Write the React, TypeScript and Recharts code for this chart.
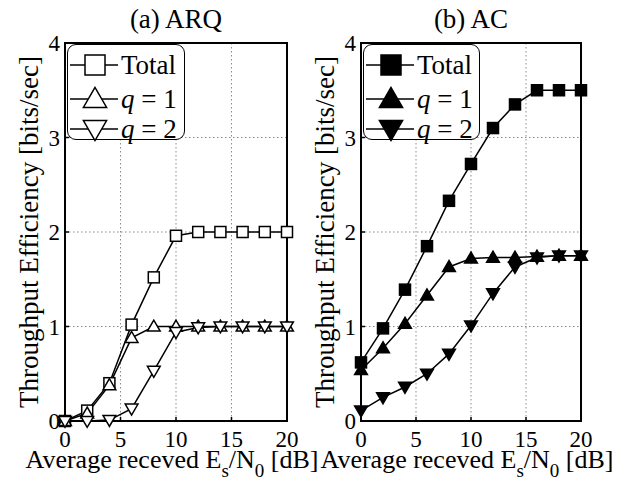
import { LineChart, Line, XAxis, YAxis, CartesianGrid, ReferenceArea, Legend, Label } from "recharts";

const FONT = "'Liberation Serif', 'Times New Roman', serif";

const snr = [0, 2, 4, 6, 8, 10, 12, 14, 16, 18, 20];
const xTicks = [0, 5, 10, 15, 20];
const yTicks = [0, 1, 2, 3, 4];

// (a) ARQ
const arqTotal = [0, 0.11, 0.4, 1.02, 1.52, 1.96, 2, 2, 2, 2, 2];
const arqQ1 = [0, 0.08, 0.38, 0.88, 1, 1, 1, 1, 1, 1, 1];
const arqQ2 = [0, 0, 0.01, 0.13, 0.53, 0.94, 0.99, 1, 1, 1, 1];

// (b) AC
const acTotal = [0.62, 0.98, 1.39, 1.85, 2.33, 2.72, 3.1, 3.35, 3.5, 3.5, 3.5];
const acQ1 = [0.54, 0.77, 1.03, 1.33, 1.63, 1.72, 1.73, 1.73, 1.74, 1.75, 1.75];
const acQ2 = [0.11, 0.25, 0.36, 0.5, 0.71, 1.01, 1.35, 1.63, 1.73, 1.75, 1.75];

type Kind = "square" | "up" | "down";

function Marker({ cx, cy, kind, filled, size }: { cx: number; cy: number; kind: Kind; filled: boolean; size: number }) {
  const fill = filled ? "#000" : "#fff";
  const h = size / 2;
  if (kind === "square") {
    return <rect x={cx - h} y={cy - h} width={size} height={size} fill={fill} stroke="#000" strokeWidth={1.5} />;
  }
  const w = size * 0.58;
  const pts =
    kind === "up"
      ? `${cx},${cy - size * 0.58} ${cx - w},${cy + size * 0.42} ${cx + w},${cy + size * 0.42}`
      : `${cx},${cy + size * 0.58} ${cx - w},${cy - size * 0.42} ${cx + w},${cy - size * 0.42}`;
  return <polygon points={pts} fill={fill} stroke="#000" strokeWidth={1.5} />;
}

function LegendBox({ filled, width }: { filled: boolean; width: number }) {
  const rows: { kind: Kind; y: number; label: any }[] = [
    { kind: "square", y: 20, label: <tspan>Total</tspan> },
    { kind: "up", y: 54, label: <><tspan fontStyle="italic">q</tspan><tspan> = 1</tspan></> },
    { kind: "down", y: 84, label: <><tspan fontStyle="italic">q</tspan><tspan> = 2</tspan></> },
  ];
  return (
    <div style={{ width, height: 96, border: "1.5px solid #000", borderRadius: 9, background: "#fff", boxSizing: "border-box" }}>
      <svg width={width - 3} height={93} style={{ display: "block", overflow: "visible" }}>
        {rows.map((r) => (
          <g key={r.kind}>
            <line x1={2} x2={50} y1={r.y} y2={r.y} stroke="#000" strokeWidth={1.5} />
            <Marker cx={27} cy={r.y} kind={r.kind} filled={filled} size={20} />
            <text x={53} y={r.y + 9} fontSize={27} fontFamily={FONT} fill="#000">
              {r.label}
            </text>
          </g>
        ))}
      </svg>
    </div>
  );
}

interface PanelProps {
  title: string;
  total: number[];
  q1: number[];
  q2: number[];
  filled: boolean;
  left: number;
  right: number;
  legendWidth: number;
}

const M_TOP = 43;
const M_LEFT = 25;
const Y_W = 40;
const M_BOTTOM = 39;
const X_H = 30;
const W = 320;
const H = 490;
const TICK = { fontSize: 23, fill: "#000", fontFamily: FONT };

function Panel({ title, total, q1, q2, filled, left, right, legendWidth }: PanelProps) {
  const data = snr.map((x, i) => ({ x, total: total[i], q1: q1[i], q2: q2[i] }));
  const plotLeft = M_LEFT + Y_W;
  const plotW = W - plotLeft - right;
  const plotH = H - M_TOP - M_BOTTOM - X_H;
  const series: { key: string; kind: Kind }[] = [
    { key: "total", kind: "square" },
    { key: "q1", kind: "up" },
    { key: "q2", kind: "down" },
  ];
  return (
    <div style={{ position: "absolute", left, top: 0 }}>
      <LineChart width={W} height={H} data={data} margin={{ top: M_TOP, right, bottom: M_BOTTOM, left: M_LEFT }}>
        <CartesianGrid stroke="#8a8a8a" strokeDasharray="1.5 2.5" strokeWidth={1} />
        <XAxis
          type="number"
          dataKey="x"
          domain={[0, 20]}
          ticks={xTicks}
          tickLine={{ stroke: "#000", strokeWidth: 1.5 }}
          axisLine={false}
          tickSize={-4}
          tickMargin={14}
          height={X_H}
          tick={TICK}
        >
          <Label
            content={() => (
              <text x={plotLeft + plotW / 2 - 4} y={468} textAnchor="middle" fontSize={26} fontFamily={FONT} fill="#000">
                <tspan>Average receved E</tspan>
                <tspan fontSize={19} dy={9}>s</tspan>
                <tspan dy={-9}>/N</tspan>
                <tspan fontSize={19} dy={9}>0</tspan>
                <tspan dy={-9}> [dB]</tspan>
              </text>
            )}
          />
        </XAxis>
        <XAxis
          xAxisId="top"
          orientation="top"
          type="number"
          dataKey="x"
          domain={[0, 20]}
          ticks={xTicks}
          tickLine={{ stroke: "#000", strokeWidth: 1.5 }}
          axisLine={false}
          tickSize={-4}
          height={0}
          tick={() => <g />}
        />
        <YAxis
          type="number"
          domain={[0, 4]}
          ticks={yTicks}
          tickLine={{ stroke: "#000", strokeWidth: 1.5 }}
          axisLine={false}
          tickSize={-4}
          tickMargin={9}
          width={Y_W}
          tick={TICK}
        >
          <Label
            content={() => {
              const cx = plotLeft - 36;
              const cy = M_TOP + plotH / 2;
              return (
                <text
                  x={cx}
                  y={cy}
                  transform={`rotate(-90, ${cx}, ${cy})`}
                  textAnchor="middle"
                  dominantBaseline="central"
                  fontSize={27}
                  fontFamily={FONT}
                  fill="#000"
                >
                  Throughput Efficiency [bits/sec]
                </text>
              );
            }}
          />
        </YAxis>
        <YAxis
          yAxisId="right"
          orientation="right"
          type="number"
          domain={[0, 4]}
          ticks={yTicks}
          tickLine={{ stroke: "#000", strokeWidth: 1.5 }}
          axisLine={false}
          tickSize={-4}
          width={0}
          tick={() => <g />}
        />
        <ReferenceArea
          x1={0}
          x2={20}
          y1={0}
          y2={4}
          fill="none"
          stroke="#000"
          strokeWidth={2}
          ifOverflow="visible"
          label={{ value: title, position: "top", offset: 15, fontSize: 27, fill: "#000", fontFamily: FONT }}
        />
        {series.map((s) => (
          <Line
            key={s.key}
            type="linear"
            dataKey={s.key}
            stroke="#000"
            strokeWidth={1.5}
            isAnimationActive={false}
            dot={(p: any) => <Marker key={`${s.key}-${p.index}`} cx={p.cx} cy={p.cy} kind={s.kind} filled={filled} size={11} />}
            activeDot={false}
          />
        ))}
        <Legend
          layout="horizontal"
          verticalAlign="middle"
          align="center"
          wrapperStyle={{ left: 67, top: 44, width: legendWidth, height: 96 }}
          content={() => <LegendBox filled={filled} width={legendWidth} />}
        />
      </LineChart>
    </div>
  );
}

export default function App() {
  return (
    <div style={{ position: "absolute", left: 0, top: 0, width: 640, height: 490, background: "#fff" }}>
      <Panel title="(a) ARQ" total={arqTotal} q1={arqQ1} q2={arqQ2} filled={false} left={0} right={33} legendWidth={118} />
      <Panel title="(b) AC" total={acTotal} q1={acQ1} q2={acQ2} filled={true} left={296} right={35} legendWidth={117} />
    </div>
  );
}
